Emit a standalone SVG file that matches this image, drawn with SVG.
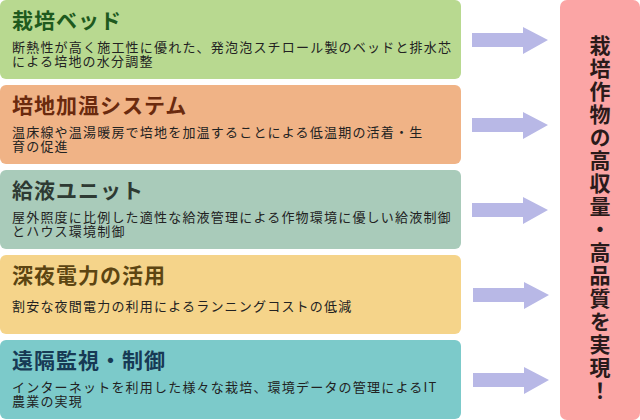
<svg xmlns="http://www.w3.org/2000/svg" width="640" height="420" viewBox="0 0 640 420">
<style>
.box{stroke:none}
.ttl{font-family:"Noto Sans CJK JP","Noto Sans",sans-serif;font-size:21px;font-weight:bold;letter-spacing:1px}
.body{font-family:"Noto Sans CJK JP","Noto Sans",sans-serif;font-size:13px;fill:#222;letter-spacing:1.2px}
.arrow{fill:#b8b8e6}
.goal{font-family:"Noto Sans CJK JP","Noto Sans",sans-serif;font-size:21px;font-weight:bold;fill:#2a1a1a;writing-mode:vertical-rl;letter-spacing:2px}
</style>
<rect width="640" height="420" fill="#ffffff"/>
<g id="node1">
<rect class="box" x="0" y="0" width="461" height="79" rx="6" fill="#b8d990"/>
<text class="ttl" x="12" y="28" fill="#1e5a1e">栽培ベッド</text>
<text class="body" x="12" y="51.5">断熱性が高く施工性に優れた、発泡泡スチロール製のベッドと排水芯<tspan x="12" dy="14">による培地の水分調整</tspan></text>
</g>
<g id="node2">
<rect class="box" x="0" y="85" width="461" height="79" rx="6" fill="#f0b386"/>
<text class="ttl" x="12" y="113" fill="#6a2a0e">培地加温システム</text>
<text class="body" x="12" y="136.5">温床線や温湯暖房で培地を加温することによる低温期の活着・生<tspan x="12" dy="14">育の促進</tspan></text>
</g>
<g id="node3">
<rect class="box" x="0" y="170" width="461" height="79" rx="6" fill="#a9cbba"/>
<text class="ttl" x="12" y="198" fill="#2e3a33">給液ユニット</text>
<text class="body" x="12" y="221.5">屋外照度に比例した適性な給液管理による作物環境に優しい給液制御<tspan x="12" dy="14">とハウス環境制御</tspan></text>
</g>
<g id="node4">
<rect class="box" x="0" y="255" width="461" height="79" rx="6" fill="#f5d48a"/>
<text class="ttl" x="12" y="283" fill="#5c4512">深夜電力の活用</text>
<text class="body" x="12" y="311">割安な夜間電力の利用によるランニングコストの低減</text>
</g>
<g id="node5">
<rect class="box" x="0" y="340" width="461" height="79" rx="6" fill="#7ccaca"/>
<text class="ttl" x="12" y="368" fill="#173a55">遠隔監視・制御</text>
<text class="body" x="12" y="391.5">インターネットを利用した様々な栽培、環境データの管理によるIT<tspan x="12" dy="14">農業の実現</tspan></text>
</g>
<g id="goal">
<rect class="box" x="560" y="0" width="80" height="420" rx="7" fill="#fba5a5"/>
<text class="goal" x="600" y="35">栽培作物の高収量・高品質を実現！</text>
</g>
<g id="connectors">
<polygon class="arrow" points="472,33 523,33 523,27 548,40 523,54 523,47 472,47"/>
<polygon class="arrow" points="472,118 523,118 523,112 548,125 523,139 523,132 472,132"/>
<polygon class="arrow" points="472,203 523,203 523,197 548,210 523,224 523,217 472,217"/>
<polygon class="arrow" points="473,288 524,288 524,282 549,295 524,309 524,302 473,302"/>
<polygon class="arrow" points="473,373 524,373 524,367 549,380 524,394 524,387 473,387"/>
</g>
</svg>
